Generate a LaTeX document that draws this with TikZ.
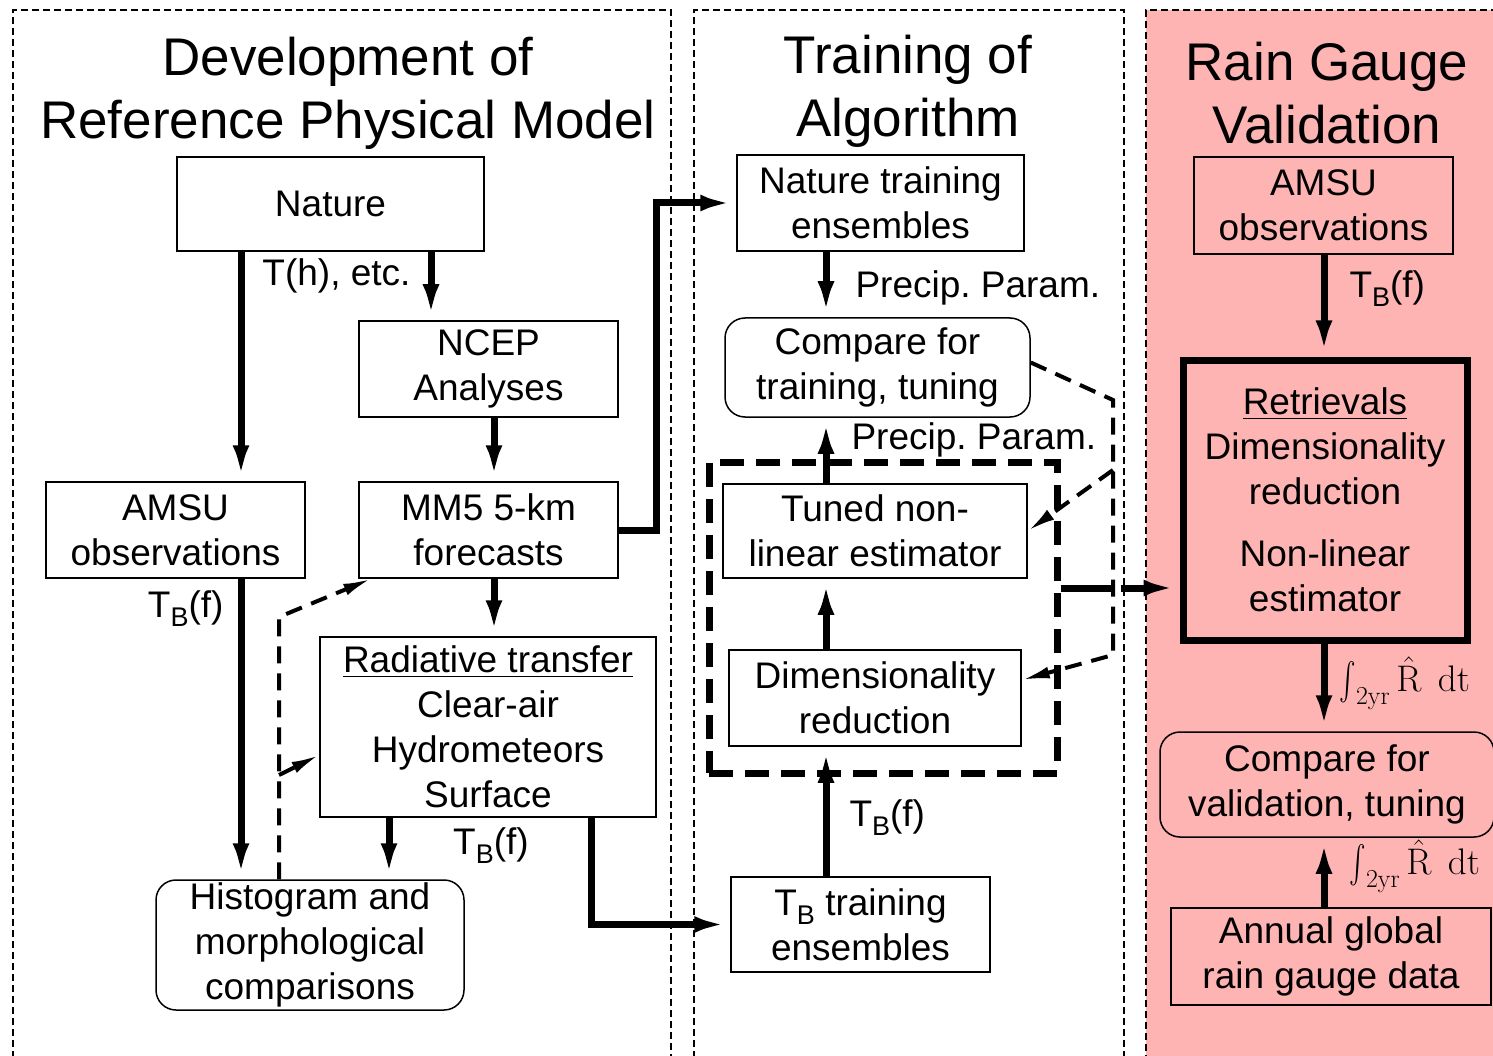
\documentclass[tikz,border=0pt]{standalone}
\usepackage{fix-cm}
\usepackage{exscale}
\usepackage[no-math]{fontspec}
\setmainfont{Liberation Sans}
\usetikzlibrary{arrows.meta}
\definecolor{gaugepink}{RGB}{255,180,180}
\newcommand{\TB}{T\raisebox{-9pt}{\fontsize{27}{27}\selectfont B}}
\newcommand{\Rint}{$\mathop{\vcenter{\hbox{\scalebox{1}[1.5]{$\textstyle\int$}}}}\nolimits_{\mathrm{2yr}}\hat{\mathrm{R}}\;\,\mathrm{dt}$}
\frenchspacing
\begin{document}
\begin{tikzpicture}[x=1pt, y=-1pt,
    every node/.style={font=\fontsize{37}{45}\selectfont, inner sep=0pt, align=center},
    title/.style={font=\fontsize{53}{63}\selectfont},
    blk/.style={draw, line width=1.5pt},
    rblk/.style={blk, rounded corners=20pt},
    arr/.style={line width=7pt, -{Latex[length=36pt,width=16pt]}},
    darr/.style={line width=4pt, dash pattern=on 17pt off 10pt, -{Latex[length=28pt,width=12pt]}},
    panel/.style={line width=1.3pt, dash pattern=on 7pt off 4pt},
    grpbox/.style={draw, line width=7pt, dash pattern=on 24pt off 12pt},
    garr/.style={line width=7pt, dash pattern=on 50pt off 10pt on 40pt, -{Latex[length=36pt,width=16pt]}}]
    \useasboundingbox (0,0) rectangle (1493,1056);
    \clip (0,0) rectangle (1493,1056);
    \fill [gaugepink] (1146,10) rectangle (1520,1080);
    \draw [panel] (13,1080) -- (13,10) -- (671,10) -- (671,1080);
    \draw [panel] (694,1080) -- (694,10) -- (1124,10) -- (1124,1080);
    \draw [panel] (1520,10) -- (1146,10) -- (1146,1080);

    \node [title] (ttlref) at (348,93) {Development of\\Reference Physical Model};
    \node [title] (ttltrain) at (908,91) {Training of\\Algorithm};
    \node [title] (ttlgauge) at (1327,93) {Rain Gauge\\Validation};

    \node [blk, minimum width=307pt, minimum height=94pt] (nat) at (330.5,204) {Nature};
    \node [blk, minimum width=259pt, minimum height=96pt] (ncep) at (488.5,369) {NCEP\\Analyses};
    \node [blk, minimum width=259pt, minimum height=96pt] (amsuL) at (175.5,530) {AMSU\\observations};
    \node [blk, minimum width=259pt, minimum height=96pt] (mm5) at (488.5,530) {MM5 5-km\\forecasts};
    \node [blk, minimum width=336pt, minimum height=180pt] (rad) at (488,727) {\underline{Radiative transfer}\\Clear-air\\Hydrometeors\\Surface};
    \node [rblk, minimum width=308pt, minimum height=130pt] (hist) at (310,945) {Histogram and\\morphological\\comparisons};

    \node [blk, minimum width=287pt, minimum height=96pt] (ntrain) at (880.5,203) {Nature training\\ensembles};
    \node [rblk, minimum width=305pt, minimum height=99pt] (cmpT) at (877.5,367.5) {Compare for\\training, tuning};
    \node [grpbox, minimum width=348pt, minimum height=311pt] (grp) at (883,617.5) {};
    \node [blk, minimum width=304pt, minimum height=94pt] (tuned) at (875,531) {Tuned non-\\linear estimator};
    \node [blk, minimum width=292pt, minimum height=96pt] (dimred) at (875,698) {Dimensionality\\reduction};
    \node [blk, minimum width=259pt, minimum height=95pt] (tbtrain) at (860.5,924.5) {\TB{} training\\ensembles};

    \node [blk, minimum width=259pt, minimum height=97pt] (amsuR) at (1323.5,205.5) {AMSU\\observations};
    \node [draw, line width=7pt, minimum width=284pt, minimum height=280pt] (retr) at (1325,500) {\underline{Retrievals}\\Dimensionality\\reduction\\[17pt]Non-linear\\estimator};
    \node [rblk, minimum width=334pt, minimum height=105pt] (cmpV) at (1327,784.5) {Compare for\\validation, tuning};
    \node [blk, minimum width=320pt, minimum height=97pt] (gauge) at (1331,956.5) {Annual global\\rain gauge data};

    \coordinate (xa) at (241,0);
    \coordinate (xb) at (431,0);
    \coordinate (xc) at (494,0);
    \coordinate (xd) at (389,0);
    \coordinate (xe) at (591,0);
    \coordinate (xf) at (656,400);
    \coordinate (xg) at (826,0);
    \coordinate (xj) at (1324,0);
    \coordinate (ya) at (0,588);
    \coordinate (dl) at (279,617);
    \coordinate (dm) at (279,775);
    \coordinate (dr1) at (1113,400);
    \coordinate (dr2) at (1113,470);
    \coordinate (dr3) at (1113,655);

    \draw [arr] (nat.south -| xa) -- (amsuL.north -| xa);
    \draw [arr] (nat.south -| xb) -- node [pos=0.36, anchor=east, xshift=-17pt] {T(h), etc.} (ncep.north -| xb);
    \draw [arr] (ncep.south -| xc) -- (mm5.north -| xc);
    \draw [arr] (mm5.south -| xc) -- (rad.north -| xc);
    \draw [arr] (amsuL.south -| xa) -- node [pos=0.1, anchor=east, xshift=-14pt] {\TB(f)} (hist.north -| xa);
    \draw [arr] (rad.south -| xd) -- (hist.north -| xd);
    \node (tbrad) at (491,846) {\TB(f)};
    \draw [arr] (rad.south -| xe) |- (tbtrain.west);
    \draw [arr] (mm5.east) -| (xf) |- (ntrain.west);
    \draw [darr] (hist.north -| dl) -- (dl) -- ([xshift=13pt]mm5.south west);
    \draw [darr] (dm) -- ([yshift=-28pt]rad.west);

    \draw [arr] (ntrain.south -| xg) -- node [pos=0.55, anchor=west, xshift=26pt] {Precip. Param.} (cmpT.north -| xg);
    \draw [arr] (tuned.north -| xg) -- node [pos=0.66, anchor=west, xshift=22pt] {Precip. Param.} (cmpT.south -| xg);
    \draw [arr] (dimred.north -| xg) -- (tuned.south -| xg);
    \draw [arr] (tbtrain.north -| xg) -- node [pos=0.45, anchor=west, xshift=20pt] {\TB(f)} (dimred.south -| xg);
    \draw [darr] ([yshift=5pt]cmpT.east) -- (dr1) -- (dr3) -- ([yshift=18pt]dimred.east);
    \draw [darr] (dr2) -- (tuned.east);
    \draw [garr] (grp.east |- ya) -- (retr.west |- ya);

    \draw [arr] (amsuR.south -| xj) -- node [pos=0.33, anchor=west, xshift=22pt] {\TB(f)} (retr.north -| xj);
    \draw [arr] (retr.south -| xj) -- node [pos=0.45, anchor=west, xshift=12pt] {\Rint} (cmpV.north -| xj);
    \draw [arr] (gauge.north -| xj) -- node [pos=0.59, anchor=west, xshift=22pt] {\Rint} (cmpV.south -| xj);
\end{tikzpicture}
\end{document}
